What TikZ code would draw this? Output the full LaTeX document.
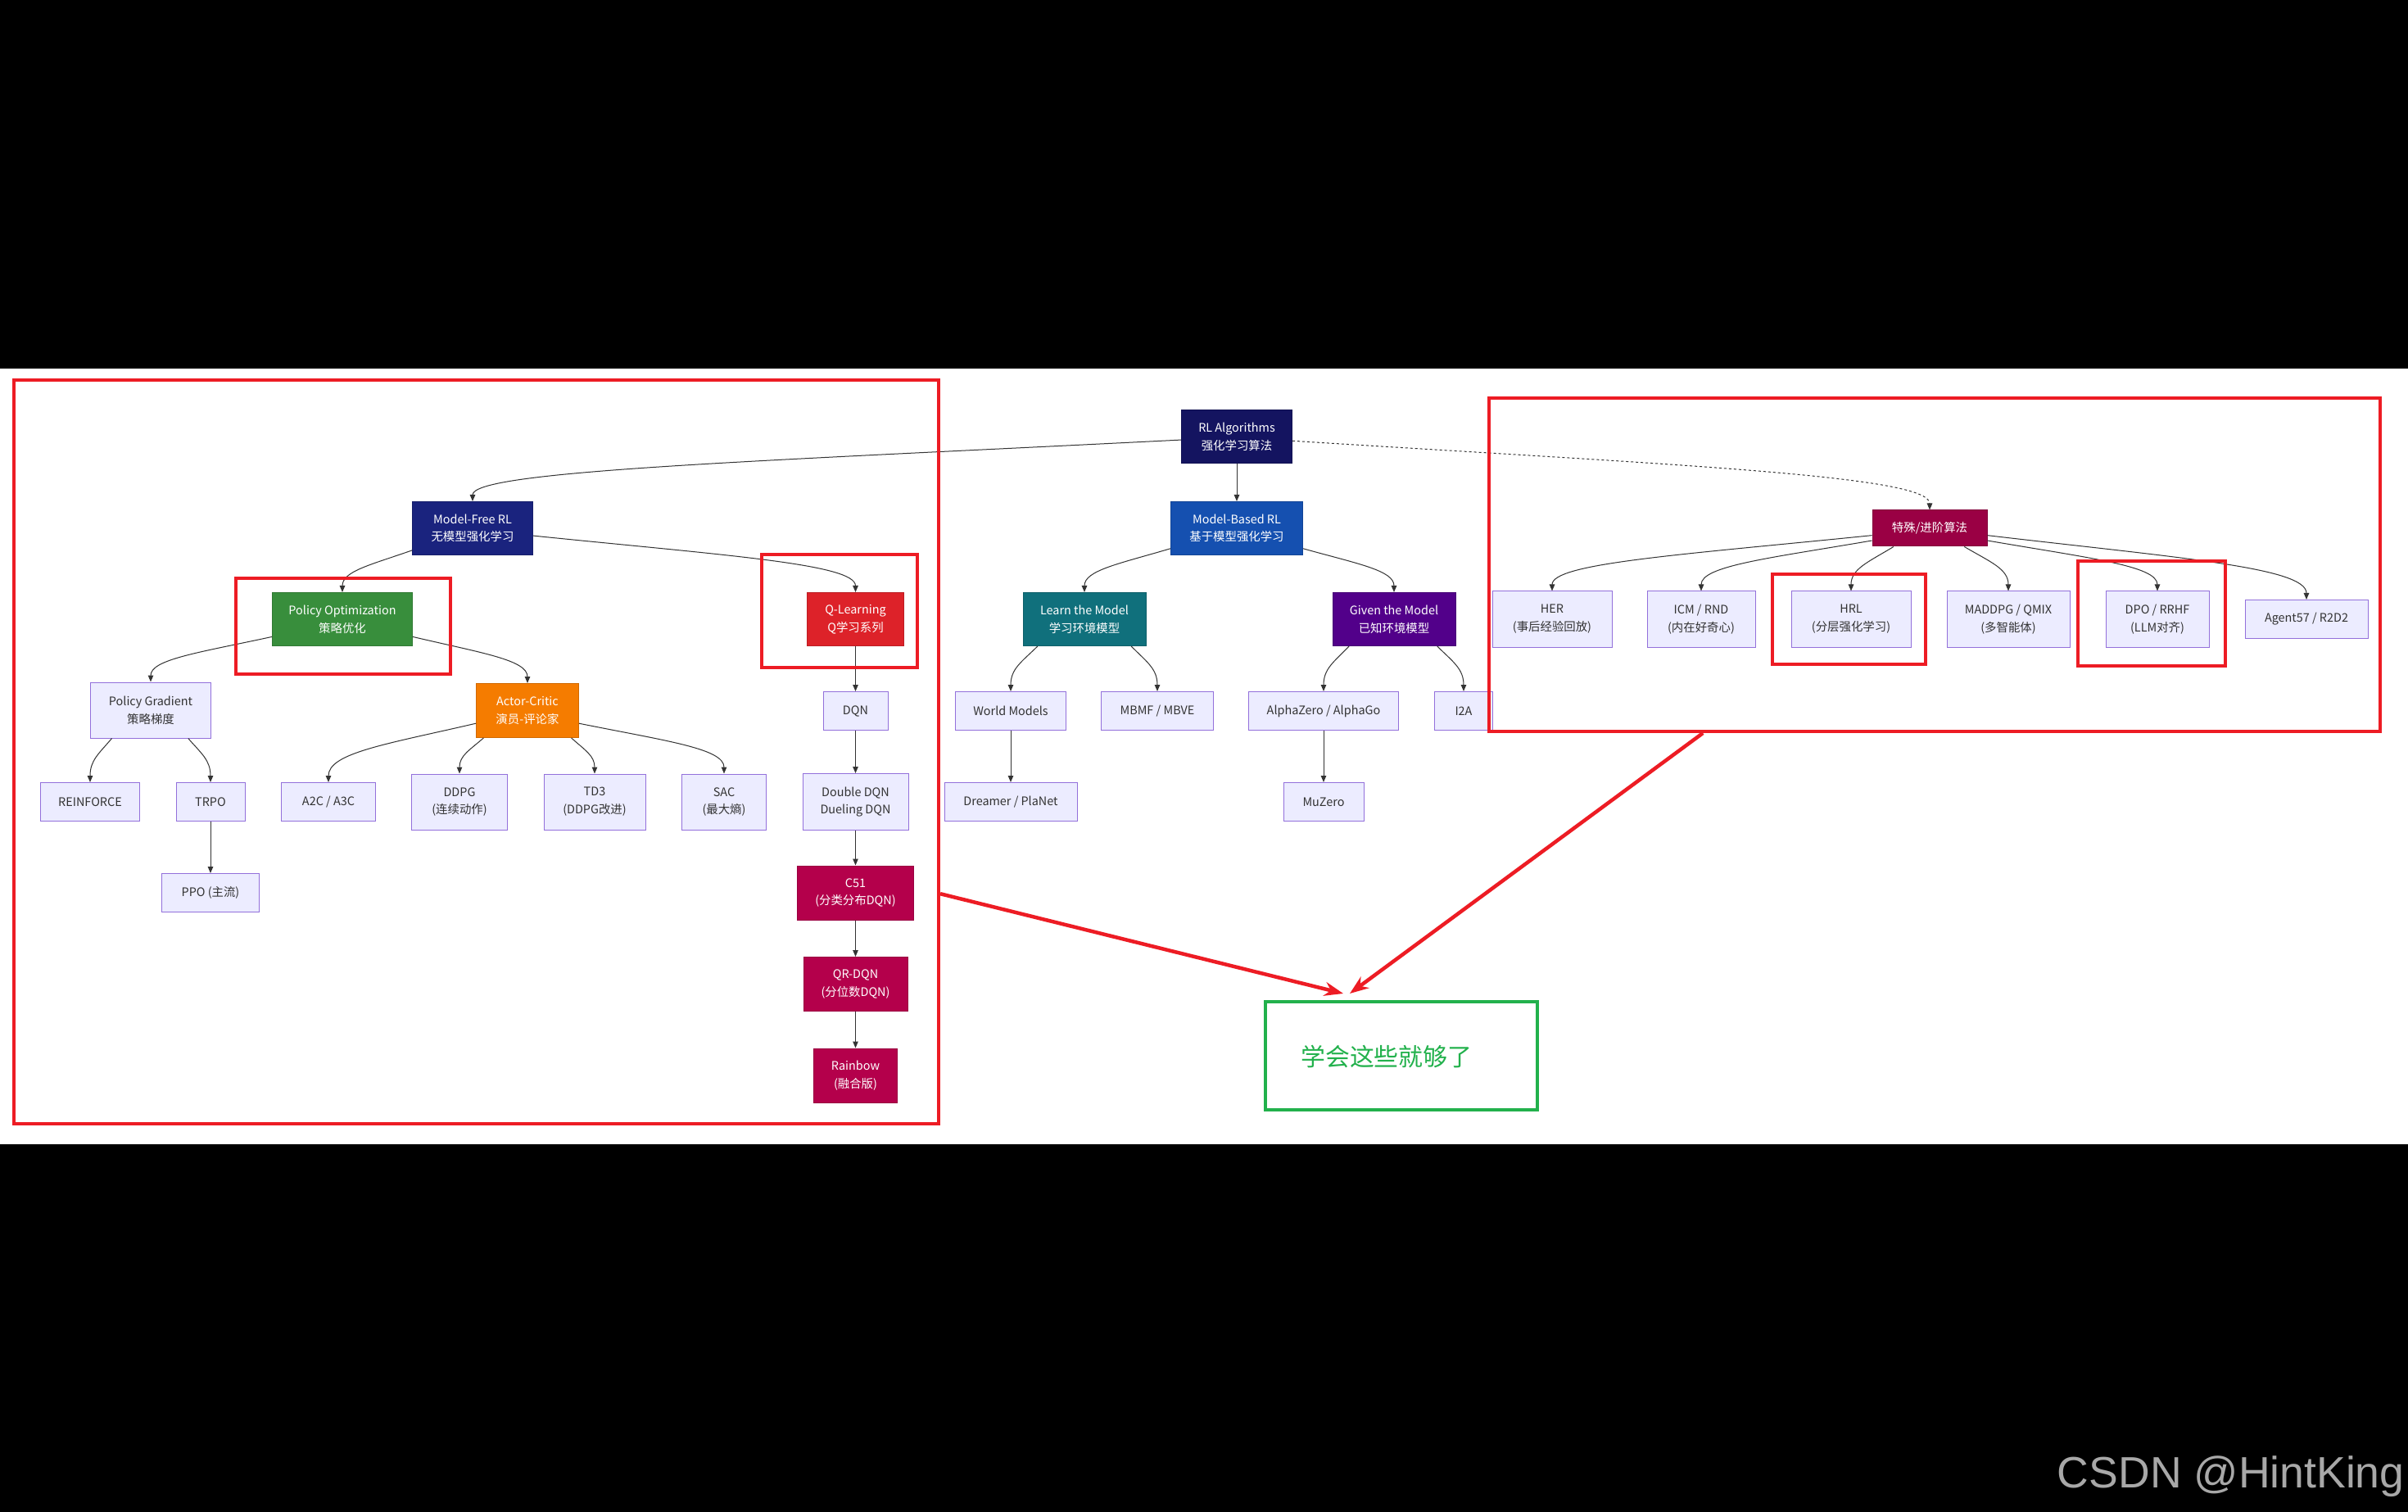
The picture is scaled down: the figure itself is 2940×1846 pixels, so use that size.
\documentclass[tikz,border=0pt]{standalone}
\usepackage{fontspec}
\usepackage{tikz}
\usetikzlibrary{arrows.meta,calc}

\newfontfamily\cjkfont{Noto Sans CJK SC}
\newfontfamily\markfont{Liberation Sans}

\definecolor{rootnavy}{HTML}{141460}
\definecolor{freeindigo}{HTML}{1A237E}
\definecolor{basedblue}{HTML}{1550B0}
\definecolor{specialwine}{HTML}{9A0044}
\definecolor{policygreen}{HTML}{388E3C}
\definecolor{qred}{HTML}{DD2229}
\definecolor{learnteal}{HTML}{10707C}
\definecolor{givenpurple}{HTML}{52008A}
\definecolor{actororange}{HTML}{F57C00}
\definecolor{distcrimson}{HTML}{B4004B}
\definecolor{leaffill}{HTML}{ECECFF}
\definecolor{leafline}{HTML}{9370DB}
\definecolor{linkgray}{HTML}{333333}
\definecolor{markred}{HTML}{ED1C24}
\definecolor{markgreen}{HTML}{22B14C}
\definecolor{markgray}{HTML}{A8A8A8}

\tikzset{
  algo/.style={draw=leafline, fill=leaffill, text=linkgray, line width=0.2mm,
    inner sep=0pt, align=center, font=\cjkfont\fontsize{8.2}{12.4}\selectfont,
    minimum height=9.4mm},
  twoline/.style={minimum height=13.6mm},
  family/.style={algo, fill=#1, draw=#1!85!black, text=white, minimum height=13mm},
  link/.style={draw=linkgray, line width=0.2mm, -{Triangle[length=1.6mm,width=1.3mm]}},
  flow/.style={to path={let \p1=(\tikztostart), \p2=(\tikztotarget) in
    .. controls ({\x1+0.6*(\x2-\x1)},{\y1+0.35*(\y2-\y1)})
    and (\x2,{\y2+0.5*(\y1-\y2)}) .. (\tikztotarget)}},
  redframe/.style={draw=markred, line width=0.8mm, inner sep=0pt},
  pointer/.style={draw=markred, line width=0.9mm, -{Stealth[length=4.6mm,width=3.4mm]}},
}

\begin{document}
\begin{tikzpicture}[x=0.2mm,y=-0.2mm]

        % Page: black screen around the white drawing
        \fill[black] (0,0) rectangle (2940,1846);
        \fill[white] (0,450) rectangle (2940,1397);

        % Families of algorithms
        \node[family=rootnavy, minimum width=27mm] (rl) at (1510,533.5) {RL Algorithms\\强化学习算法};
        \node[family=freeindigo, minimum width=29.4mm] (mf) at (577,645) {Model-Free RL\\无模型强化学习};
        \node[family=basedblue, minimum width=32.2mm] (mb) at (1510,645) {Model-Based RL\\基于模型强化学习};
        \node[family=specialwine, minimum width=28mm, minimum height=8.8mm] (sp) at (2356,645) {特殊/进阶算法};
        \node[family=policygreen, minimum width=34.2mm] (po) at (418,756) {Policy Optimization\\策略优化};
        \node[family=qred, minimum width=23.6mm] (ql) at (1044.5,756) {Q-Learning\\Q学习系列};
        \node[family=learnteal, minimum width=30mm] (lm) at (1324,756) {Learn the Model\\学习环境模型};
        \node[family=givenpurple, minimum width=30mm] (gm) at (1702,756) {Given the Model\\已知环境模型};
        \node[family=actororange, minimum width=25mm, minimum height=13.2mm] (ac) at (644,867.5) {Actor-Critic\\演员-评论家};

        % Special / advanced algorithms
        \node[algo, twoline, minimum width=29.2mm] (her) at (1895,756) {HER\\(事后经验回放)};
        \node[algo, twoline, minimum width=26.4mm] (icm) at (2077,756) {ICM / RND\\(内在好奇心)};
        \node[algo, twoline, minimum width=29.2mm] (hrl) at (2260,756) {HRL\\(分层强化学习)};
        \node[algo, twoline, minimum width=30mm] (marl) at (2452,756) {MADDPG / QMIX\\(多智能体)};
        \node[algo, twoline, minimum width=25.2mm] (dpo) at (2634,756) {DPO / RRHF\\(LLM对齐)};
        \node[algo, minimum width=30mm] (agent) at (2816,756) {Agent57 / R2D2};

        % Policy side
        \node[algo, twoline, minimum width=29.4mm] (pg) at (184,867) {Policy Gradient\\策略梯度};
        \node[algo, minimum width=24.2mm] (rf) at (110,979) {REINFORCE};
        \node[algo, minimum width=16.8mm] (trpo) at (257,979) {TRPO};
        \node[algo, minimum width=23.8mm] (ppo) at (257,1090) {PPO (主流)};
        \node[algo, minimum width=23mm] (a2c) at (401,979) {A2C / A3C};
        \node[algo, twoline, minimum width=23.4mm] (ddpg) at (561,979) {DDPG\\(连续动作)};
        \node[algo, twoline, minimum width=24.8mm] (td3) at (726,979) {TD3\\(DDPG改进)};
        \node[algo, twoline, minimum width=20.6mm] (sac) at (884,979) {SAC\\(最大熵)};

        % Value side
        \node[algo, minimum width=15.8mm] (dqn) at (1044.5,868) {DQN};
        \node[algo, minimum width=25.8mm, minimum height=13.8mm] (ddqn) at (1044.5,979) {Double DQN\\Dueling DQN};
        \node[family=distcrimson, minimum width=28.4mm, minimum height=13.2mm] (c51) at (1044.5,1090) {C51\\(分类分布DQN)};
        \node[family=distcrimson, minimum width=25.4mm, minimum height=13.2mm] (qr) at (1044.5,1201.5) {QR-DQN\\(分位数DQN)};
        \node[family=distcrimson, minimum width=20.4mm, minimum height=13.2mm] (rainbow) at (1044.5,1313) {Rainbow\\(融合版)};

        % Model side
        \node[algo, minimum width=27mm] (wm) at (1234,868) {World Models};
        \node[algo, minimum width=27.4mm] (mbmf) at (1413,868) {MBMF / MBVE};
        \node[algo, minimum width=36.6mm] (az) at (1616,868) {AlphaZero / AlphaGo};
        \node[algo, minimum width=14.2mm] (i2a) at (1787,868) {I2A};
        \node[algo, minimum width=32.4mm] (dream) at (1234,979) {Dreamer / PlaNet};
        \node[algo, minimum width=19.6mm] (muz) at (1616,979) {MuZero};

        % Links between the boxes
        \draw[link] (rl) -- (mb);
        \draw[link] (rl.183) to[flow] (mf.north);
        \draw[link, dash pattern=on 0.6mm off 0.6mm] (rl.-4) to[flow] (sp.north);
        \draw[link] (mf.200) to[flow] (po.north);
        \draw[link] (mf.-7) to[flow] (ql.north);
        \draw[link] (mb.197) to[flow] (lm.north);
        \draw[link] (mb.-17) to[flow] (gm.north);
        \draw[link] (po.194) to[flow] (pg.north);
        \draw[link] (po.-14) to[flow] (ac.north);
        \draw[link] (pg.216) to[flow] (rf.north);
        \draw[link] (pg.-37) to[flow] (trpo.north);
        \draw[link] (trpo) -- (ppo);
        \draw[link] (ac.194) to[flow] (a2c.north);
        \draw[link] (ac.212) to[flow] (ddpg.north);
        \draw[link] (ac.-32) to[flow] (td3.north);
        \draw[link] (ac.-14) to[flow] (sac.north);
        \draw[link] (ql) -- (dqn);
        \draw[link] (dqn) -- (ddqn);
        \draw[link] (ddqn) -- (c51);
        \draw[link] (c51) -- (qr);
        \draw[link] (qr) -- (rainbow);
        \draw[link] (lm.210) to[flow] (wm.north);
        \draw[link] (lm.-30) to[flow] (mbmf.north);
        \draw[link] (gm.211) to[flow] (az.north);
        \draw[link] (gm.-32) to[flow] (i2a.north);
        \draw[link] (wm) -- (dream);
        \draw[link] (az) -- (muz);
        \draw[link] (sp.187) to[flow] (her.north);
        \draw[link] (sp.192) to[flow] (icm.north);
        \draw[link] (sp.207) to[flow] (hrl.north);
        \draw[link] (sp.-28) to[flow] (marl.north);
        \draw[link] (sp.-12) to[flow] (dpo.north);
        \draw[link] (sp.-7) to[flow] (agent.north);

        % Red highlights
        \node[redframe, minimum width=225.8mm, minimum height=181.6mm] (hlfree) at (581.5,918) {};
        \node[redframe, minimum width=52.4mm, minimum height=23.4mm] (hlpolicy) at (419,764.5) {};
        \node[redframe, minimum width=38mm, minimum height=27.6mm] (hlq) at (1025,746) {};
        \node[redframe, minimum width=217.6mm, minimum height=81.4mm] (hlspecial) at (2362,689.5) {};
        \node[redframe, minimum width=37.4mm, minimum height=22mm] (hlhrl) at (2257.5,756) {};
        \node[redframe, minimum width=36mm, minimum height=25.6mm] (hldpo) at (2627,749) {};

        % Note: enough to learn
        \node[draw=markgreen, line width=0.8mm, minimum width=66.4mm, minimum height=26.4mm] (goal) at (1711,1289) {};
        \node[anchor=west, inner sep=0pt, text=markgreen, font=\cjkfont\fontsize{17}{20}\selectfont] (goaltext) at (1588,1290) {学会这些就够了};
        \coordinate (tipleft) at (1640,1213);
        \coordinate (tipright) at (1648,1213);
        \draw[pointer] (hlfree.-17) -- (tipleft);
        \draw[pointer] (hlspecial.216) -- (tipright);

        % Watermark
        \node[anchor=base east, inner sep=0pt, text=markgray, font=\markfont\fontsize{30.5}{34}\selectfont] (mark) at (2936,1816) {CSDN @HintKing};

\end{tikzpicture}
\end{document}
